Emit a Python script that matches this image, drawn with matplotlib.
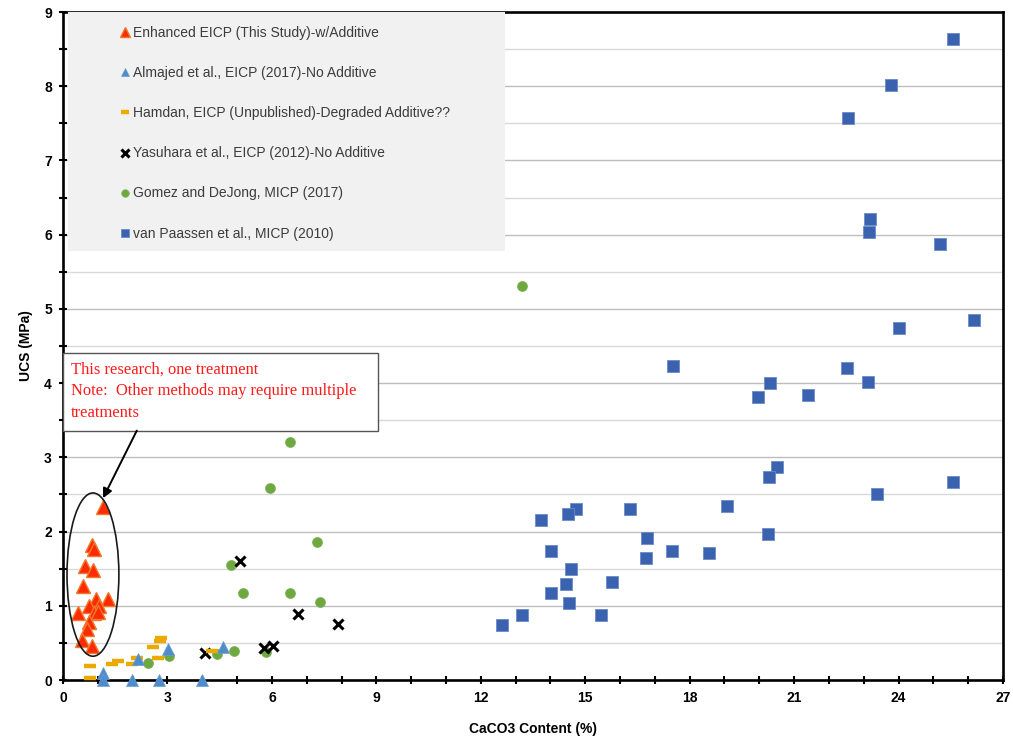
import matplotlib
matplotlib.use("Agg")
import matplotlib.pyplot as plt
from matplotlib.patches import Ellipse, Rectangle
from matplotlib.ticker import MultipleLocator

# ---- data: CaCO3 content (%) vs UCS (MPa) ----
enh_x = [1.15, 0.83, 0.89, 0.63, 0.86, 0.57, 1.29, 0.95, 0.75, 1.03, 0.43, 0.89, 1.01, 0.75, 0.69, 0.55, 0.83]
enh_y = [2.33, 1.82, 1.77, 1.54, 1.48, 1.27, 1.09, 1.09, 1.00, 1.00, 0.90, 0.90, 0.92, 0.78, 0.69, 0.54, 0.46]

alm_x = [1.15, 1.15, 1.98, 2.76, 3.99, 2.15, 3.02, 4.60]
alm_y = [0.09, 0.00, 0.00, 0.00, 0.00, 0.28, 0.42, 0.44]

ham_x = [0.78, 0.78, 1.41, 1.58, 1.98, 2.13, 2.59, 2.73, 2.79, 2.82, 4.28]
ham_y = [0.19, 0.03, 0.22, 0.26, 0.22, 0.30, 0.44, 0.30, 0.53, 0.57, 0.39]

yas_x = [5.09, 6.75, 7.90, 4.08, 5.78, 6.03]
yas_y = [1.60, 0.89, 0.75, 0.36, 0.43, 0.46]

gom_x = [13.19, 6.52, 5.95, 7.30, 4.83, 5.17, 6.52, 7.39, 5.83, 2.44, 3.05, 4.43, 4.91]
gom_y = [5.31, 3.21, 2.59, 1.86, 1.55, 1.17, 1.17, 1.05, 0.38, 0.23, 0.32, 0.35, 0.39]

vp_x = [25.57, 23.79, 22.56, 23.19, 23.16, 25.20, 26.18, 24.02, 17.53, 22.53, 20.32, 23.13,
        19.97, 21.41, 20.52, 20.29, 23.39, 25.55, 19.08, 16.29, 14.74, 14.51, 13.74, 16.78,
        20.26, 14.02, 17.50, 18.56, 16.75, 14.60, 15.78, 14.45, 14.02, 14.54, 15.46, 13.19, 12.61]
vp_y = [8.63, 8.01, 7.57, 6.21, 6.04, 5.88, 4.85, 4.74, 4.23, 4.20, 4.00, 4.02,
        3.81, 3.84, 2.87, 2.74, 2.51, 2.67, 2.34, 2.30, 2.30, 2.24, 2.16, 1.91,
        1.97, 1.74, 1.74, 1.71, 1.64, 1.50, 1.32, 1.29, 1.17, 1.04, 0.88, 0.88, 0.74]

series_labels = [
    "Enhanced EICP (This Study)-w/Additive",
    "Almajed et al., EICP (2017)-No Additive",
    "Hamdan, EICP (Unpublished)-Degraded Additive??",
    "Yasuhara et al., EICP (2012)-No Additive",
    "Gomez and DeJong, MICP (2017)",
    "van Paassen et al., MICP (2010)",
]

x_ticks = list(range(0, 28, 3))
y_ticks = list(range(0, 10))

# ---- figure ----
fig = plt.figure(figsize=(10.13, 7.46), dpi=100)
ax = fig.add_axes([63 / 1013, 66 / 746, 940 / 1013, 668 / 746])

narrow = ["Liberation Sans Narrow", "Liberation Sans", "DejaVu Sans"]
sans = ["Liberation Sans", "DejaVu Sans"]

ax.set_xlim(0, 27)
ax.set_ylim(0, 9)
ax.set_xticks(x_ticks)
ax.set_yticks(y_ticks)
ax.xaxis.set_minor_locator(MultipleLocator(1))
ax.yaxis.set_minor_locator(MultipleLocator(0.5))

ax.grid(axis="y", which="major", color="#BDBDBD", lw=1.0, zorder=0)
ax.grid(axis="y", which="minor", color="#D9D9D9", lw=1.0, zorder=0)
ax.set_axisbelow(True)

for s in ax.spines.values():
    s.set_linewidth(1.9)
    s.set_color("black")

ax.tick_params(axis="both", which="both", direction="inout", width=1.5, color="black")
ax.tick_params(axis="both", which="major", length=6, pad=5)
ax.tick_params(axis="both", which="minor", length=6)
for lab in ax.get_xticklabels() + ax.get_yticklabels():
    lab.set_fontfamily(narrow)
    lab.set_fontweight("bold")
    lab.set_fontsize(10)

ax.set_xlabel("CaCO3 Content (%)", fontfamily=narrow, fontweight="bold", fontsize=10)
ax.set_ylabel("UCS (MPa)", fontfamily=narrow, fontweight="bold", fontsize=10)
ax.xaxis.set_label_coords(0.5, -0.063)
ax.yaxis.set_label_coords(-0.032, 0.5)

# ---- series ----
kw = dict(linestyle="none", clip_on=False, zorder=4)
ax.plot(vp_x, vp_y, marker="s", ms=8, color="#3A62AE", mec="#6A8AC8", mew=0.6,
        label=series_labels[5], **kw)
ax.plot(gom_x, gom_y, marker="o", ms=7.2, color="#6FA840", mec="#7FB455", mew=0.5,
        label=series_labels[4], **kw)
ax.plot(yas_x, yas_y, marker="x", ms=7, color="black", mew=2.2,
        label=series_labels[3], **kw)
ax.plot(ham_x, ham_y, marker="_", ms=8.5, color="#EAAA00", mew=3.2,
        label=series_labels[2], **kw)
ax.plot(alm_x, alm_y, marker="^", ms=8.5, color="#4E8CCB", mec="#6A9ED3", mew=0.5,
        label=series_labels[1], **kw)
ax.plot(enh_x, enh_y, marker="^", ms=10, color="#FF2A00", mec="#EE7A30", mew=1.0,
        label=series_labels[0], **kw)

# ---- legend on a grey panel ----
ax.add_patch(Rectangle((0.0055, 0.642), 0.4645, 0.358, transform=ax.transAxes,
                       facecolor="#F1F1F1", edgecolor="none", zorder=5))
handles, labels = ax.get_legend_handles_labels()
handles, labels = handles[::-1], labels[::-1]
leg = ax.legend(handles, labels, loc="upper left", bbox_to_anchor=(0.060, 0.979),
                frameon=False, borderpad=0, borderaxespad=0, markerscale=0.76,
                handlelength=0.8, handletextpad=0.2, labelspacing=1.88,
                prop={"family": sans, "size": 10})
leg.set_zorder(6)
for t in leg.get_texts():
    t.set_color("#3C3C3C")

# ---- annotation: ellipse, note box and arrow ----
ax.add_patch(Ellipse((0.86, 1.42), 1.49, 2.20, fill=False, edgecolor="#1A1A1A",
                     lw=1.2, zorder=5))
ax.add_patch(Rectangle((0.0, 0.3728), 0.335, 0.1167, transform=ax.transAxes,
                       facecolor="white", edgecolor="#555555", lw=1.0, zorder=5))
ax.text(0.0085, 0.477,
        "This research, one treatment\nNote:  Other methods may require multiple\ntreatments",
        transform=ax.transAxes, ha="left", va="top", color="#FF1A1A",
        fontfamily=["Liberation Serif", "DejaVu Serif"], fontsize=11.9,
        linespacing=1.5, zorder=6)
ax.annotate("", xy=(1.15, 2.45), xytext=(2.12, 3.36),
            arrowprops=dict(arrowstyle="-|>", color="black", lw=1.4,
                            mutation_scale=14, shrinkA=0, shrinkB=0),
            zorder=6)

fig.savefig("out.png", dpi=100)
